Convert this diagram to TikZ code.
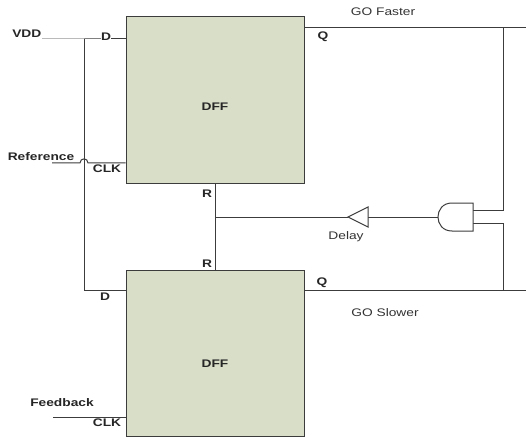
\documentclass[tikz,border=0pt]{standalone}
\usepackage{fontspec}
\setmainfont{Liberation Sans}
\newfontfamily\wide[FakeStretch=1.25]{Liberation Sans}
\definecolor{boxfill}{RGB}{217,222,200}
\definecolor{wirecol}{RGB}{60,60,60}
\begin{document}
\begin{tikzpicture}[x=1pt,y=-1pt,
  wire/.style={draw=wirecol, line width=1pt},
  dffbox/.style={draw=wirecol, fill=boxfill, line width=1pt, minimum width=178pt, minimum height=166pt, inner sep=0pt},
  pin/.style={font=\wide\bfseries\fontsize{11}{13}\selectfont, text=black!85, inner sep=0.5pt},
  txt/.style={font=\wide\fontsize{11}{13}\selectfont, text=black!80, inner sep=0pt}]
\useasboundingbox (0,0) rectangle (526,438);
% flip-flops
\node[dffbox] (ff1) at (215,100) {};
\node[dffbox] (ff2) at (215,353) {};
\node[pin] (dff1) at (215,107) {DFF};
\node[pin] (dff2) at (215,364) {DFF};
% coordinates
\coordinate (vddend) at (42,39);
\coordinate (j1) at (84,39);
\coordinate (j2) at (84,290);
\coordinate (refs) at (52,163);
\coordinate (fbs) at (53,417);
\coordinate (q1) at (304,28);
\coordinate (q1e) at (526,28);
\coordinate (q2) at (304,290);
\coordinate (q2e) at (526,290);
\coordinate (r1) at (503,28);
\coordinate (r2) at (503,290);
\coordinate (ain1) at (473,210);
\coordinate (ain2) at (473,223);
\coordinate (aout) at (438,217);
\coordinate (bin) at (368,217);
\coordinate (bout) at (348,217);
\coordinate (rj) at (215,217);
\coordinate (rtop) at (215,183);
\coordinate (rbot) at (215,270);
% wires
\draw[wire] (vddend) -- (j1) -- (ff1.west |- j1);
\draw[wire] (j1) -- (j2) -- (ff2.west |- j2);
\draw[wire] (refs) -- (80,163) .. controls (80,157.5) and (88,157.5) .. (88,163) -- (ff1.west |- refs);
\draw[wire] (fbs) -- (ff2.west |- fbs);
\draw[wire] (q1) -- (q1e);
\draw[wire] (q2) -- (q2e);
\draw[wire] (r1) |- (ain1);
\draw[wire] (ain2) -| (r2);
% AND gate
\draw[wire, fill=white] (473,203) -- (452,203) .. controls (433.3,203) and (433.3,231) .. (452,231) -- (473,231) -- cycle;
\draw[wire] (aout) -- (bin);
% delay buffer
\draw[wire, fill=white] (368,207) -- (368,227) -- (bout) -- cycle;
\draw[wire] (bout) -- (rj);
\draw[wire] (rtop) -- (rbot);
% labels
\node[pin, anchor=base east] (vdd) at (42,38) {VDD};
\node[pin, fill=white] (d1) at (106,37) {D};
\node[pin] (d2) at (105,297) {D};
\node[pin] (clk1) at (107,169) {CLK};
\node[pin] (clk2) at (107,423) {CLK};
\node[pin] (refl) at (41,157) {Reference};
\node[pin] (fbl) at (62,403) {Feedback};
\node[pin] (qa) at (323,37) {Q};
\node[pin] (qb) at (322,283) {Q};
\node[pin] (ra) at (207,194) {R};
\node[pin] (rb) at (207,264) {R};
\node[txt] (gf) at (383,12) {GO Faster};
\node[txt] (gs) at (385,313) {GO Slower};
\node[txt] (dl) at (346,237) {Delay};
\end{tikzpicture}
\end{document}
